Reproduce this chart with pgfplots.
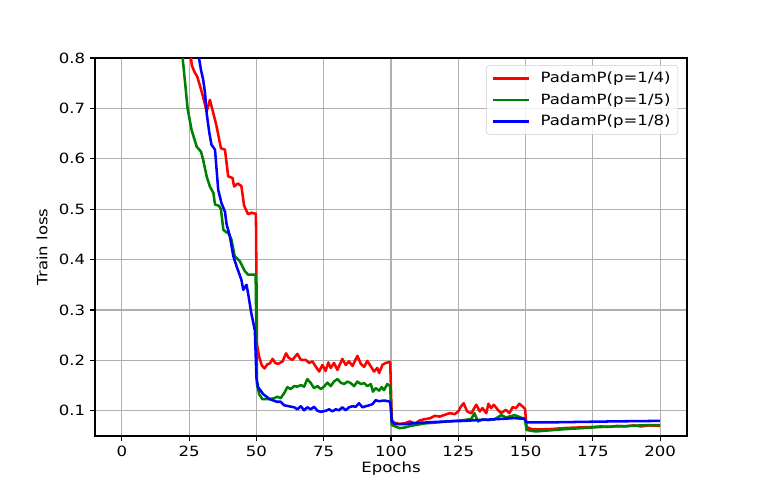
\documentclass[border=0pt]{standalone}
\usepackage{fontspec}
\setmainfont{DejaVu Sans}[FakeStretch=1.17]
\usepackage{pgfplots}
\pgfplotsset{compat=1.18}
\definecolor{mplgreen}{RGB}{0,128,0}
\definecolor{gridgray}{HTML}{B0B0B0}
\definecolor{legedge}{HTML}{CCCCCC}

\begin{document}
\fontsize{10.6}{12.7}\selectfont
\begin{tikzpicture}
\useasboundingbox (-71.25pt,-40.5pt) rectangle (501pt,327pt);
\begin{axis}[
  scale only axis,
  width=444pt, height=283.5pt,
  xmin=-10, xmax=210,
  ymin=0.05, ymax=0.8,
  xtick={0,25,...,200},
  ytick={0.1,0.2,0.3,0.4,0.5,0.6,0.7,0.8},
  yticklabel style={/pgf/number format/fixed, /pgf/number format/precision=1, /pgf/number format/fixed zerofill},
  /pgf/number format/assume math mode=true,
  tick align=outside,
  xtick pos=bottom, ytick pos=left,
  major tick length=3.7pt,
  every tick/.style={black, line width=0.85pt},
  axis line style={black, line width=0.85pt},
  grid=major,
  grid style={gridgray, line width=0.85pt},
  xlabel={Epochs},
  ylabel={Train loss},
  every axis x label/.style={at={(axis description cs:0.5,-0.0873)}, anchor=center},
  every axis y label/.style={at={(axis description cs:-0.0895,0.5)}, rotate=90, anchor=center},
  legend style={at={(0.985,0.981)}, anchor=north east, draw=legedge, fill=white, fill opacity=0.8, text opacity=1,
    rounded corners=2pt, inner xsep=3.5pt, inner ysep=3pt, row sep=2.4pt,
    nodes={inner sep=2pt},
    /tikz/every odd column/.append style={column sep=6pt}},
  legend cell align=left,
  legend image code/.code={\draw[#1] (0pt,0pt) -- (27pt,0pt);},
  every axis plot/.append style={line width=1.9pt, line join=round},
]
\addplot[red] coordinates {
(23,0.90) (24,0.865) (25,0.83) (26,0.785) (27,0.772) (28,0.763) (29,0.745) (30,0.726)
(31.5,0.694) (32.7,0.717) (34,0.690) (35.2,0.664) (36.8,0.621) (38.3,0.618) (39.5,0.565)
(41.1,0.562) (41.7,0.545) (43,0.551) (44.4,0.546) (45.4,0.507) (46.9,0.490) (48.1,0.493)
(49.8,0.491) (50.2,0.232) (51,0.207) (52,0.19) (53,0.184) (54,0.192) (55,0.194) (56,0.203)
(57,0.195) (58,0.193) (59.7,0.198) (61,0.214) (62,0.205) (63.4,0.201) (65.2,0.213)
(66.5,0.201) (68.3,0.201) (69.6,0.195) (70.8,0.198) (72,0.188) (73.3,0.178) (74.5,0.191)
(75.7,0.179) (76.7,0.196) (77.6,0.185) (78.8,0.195) (80.1,0.181) (81.9,0.203) (83.2,0.191)
(84.4,0.198) (85.7,0.189) (87.5,0.209) (88.8,0.193) (90,0.187) (91.2,0.199) (92.5,0.188)
(93.7,0.178) (94.9,0.185) (95.6,0.175) (96.8,0.191) (98,0.195) (99.7,0.197)
(100.3,0.082) (101,0.077) (103,0.074) (105,0.075) (107,0.079) (109,0.075) (110.7,0.081)
(112.6,0.0835) (114.4,0.085) (116.3,0.090) (118.1,0.0885) (120,0.092) (121.8,0.0954)
(123.7,0.0934) (125,0.0987) (126,0.1086) (127,0.115) (128.3,0.0987) (129.8,0.095)
(131.7,0.112) (133,0.0987) (134,0.1053) (135.4,0.0954) (136.2,0.114) (137.2,0.1053)
(138.2,0.112) (139.7,0.102) (140.9,0.0954) (142.7,0.102) (144,0.0954) (145.2,0.1073)
(146.4,0.1053) (147.7,0.114) (148.9,0.1086) (149.8,0.104) (150.4,0.068) (152,0.064)
(155,0.063) (160,0.064) (165,0.066) (170,0.067) (175,0.068) (178,0.069) (181,0.068)
(184,0.070) (187,0.069) (190,0.071) (193,0.069) (196,0.071) (200,0.070)
};
\addlegendentry{PadamP(p=1/4)}
\addplot[mplgreen] coordinates {
(21,0.88) (22,0.83) (23.5,0.75) (24.4,0.70) (25.9,0.657) (27.8,0.624) (29.4,0.614)
(30.2,0.598) (31.5,0.565) (32.7,0.545) (34,0.532) (34.6,0.509) (36,0.507) (36.8,0.50)
(37.7,0.459) (38.9,0.454) (39.5,0.453) (40.7,0.44) (41.9,0.407) (43.8,0.397) (45.7,0.377)
(46.9,0.370) (48.8,0.370) (49.7,0.370) (50.2,0.153) (51,0.133) (52.2,0.123) (54.7,0.123)
(56.6,0.125) (57.8,0.128) (59,0.125) (60.3,0.135) (61.5,0.147) (62.7,0.143) (64,0.149)
(65.2,0.148) (66.5,0.151) (67.7,0.148) (68.9,0.163) (70.2,0.155) (71.4,0.145) (72.7,0.149)
(73.9,0.143) (75.1,0.148) (76.4,0.156) (77.6,0.149) (78.8,0.158) (80.1,0.163) (81.3,0.156)
(82.6,0.153) (83.8,0.158) (85,0.155) (86.3,0.149) (87.5,0.158) (88.8,0.153) (90,0.155)
(91.2,0.149) (92.5,0.153) (93.3,0.138) (94.3,0.145) (95.6,0.14) (96.5,0.147) (97.4,0.141)
(98.6,0.153) (99.7,0.149) (100.3,0.072) (101.5,0.069) (103.3,0.0656) (105.2,0.067)
(107,0.0696) (108.9,0.0716) (112.6,0.075) (116.3,0.0765) (121.2,0.079) (126.1,0.081)
(129.8,0.0835) (131,0.0954) (132.3,0.0788) (134.1,0.083) (136,0.0815) (138.4,0.083)
(141,0.0914) (142.7,0.0868) (146,0.0914) (148.5,0.086) (149.7,0.085) (150.4,0.062)
(153.6,0.059) (158.5,0.061) (164.6,0.0636) (170.8,0.0656) (177,0.0676) (183,0.069)
(189,0.070) (195,0.0716) (200,0.0716)
};
\addlegendentry{PadamP(p=1/5)}
\addplot[blue] coordinates {
(26,0.90) (27,0.86) (28,0.82) (29.4,0.776) (30.2,0.757) (30.9,0.730) (31.5,0.690)
(32.5,0.651) (33.3,0.628) (34.6,0.618) (35.8,0.538) (37,0.512) (38.3,0.495) (38.9,0.47)
(40.1,0.447) (41.4,0.407) (42.6,0.387) (44.4,0.36) (45.1,0.34) (46.3,0.35) (46.9,0.333)
(48.1,0.293) (49.4,0.26) (50,0.165) (50.6,0.147) (52.5,0.133) (55,0.123) (57.5,0.118)
(59,0.118) (60.3,0.111) (62.1,0.109) (64,0.107) (65.2,0.103) (66.5,0.109) (67.7,0.101)
(68.9,0.107) (70.2,0.103) (71.4,0.108) (72.7,0.100) (73.9,0.098) (75.7,0.100) (77,0.103)
(78.2,0.099) (79.5,0.103) (80.7,0.101) (81.9,0.107) (83.2,0.101) (84.4,0.107) (85.7,0.109)
(86.9,0.108) (88.1,0.115) (89.4,0.107) (90.6,0.109) (91.9,0.111) (93.1,0.113) (94.3,0.121)
(95.6,0.119) (96.8,0.120) (98,0.120) (99.7,0.118) (100.3,0.079) (101.5,0.0736)
(105.2,0.0736) (108.9,0.0755) (115,0.0775) (121.2,0.079) (127.4,0.080) (133.5,0.082)
(139.7,0.0835) (145.8,0.0855) (149.6,0.084) (150.4,0.077) (158.5,0.077) (170.8,0.078)
(183,0.079) (200,0.080)
};
\addlegendentry{PadamP(p=1/8)}
\end{axis}
\end{tikzpicture}
\end{document}
